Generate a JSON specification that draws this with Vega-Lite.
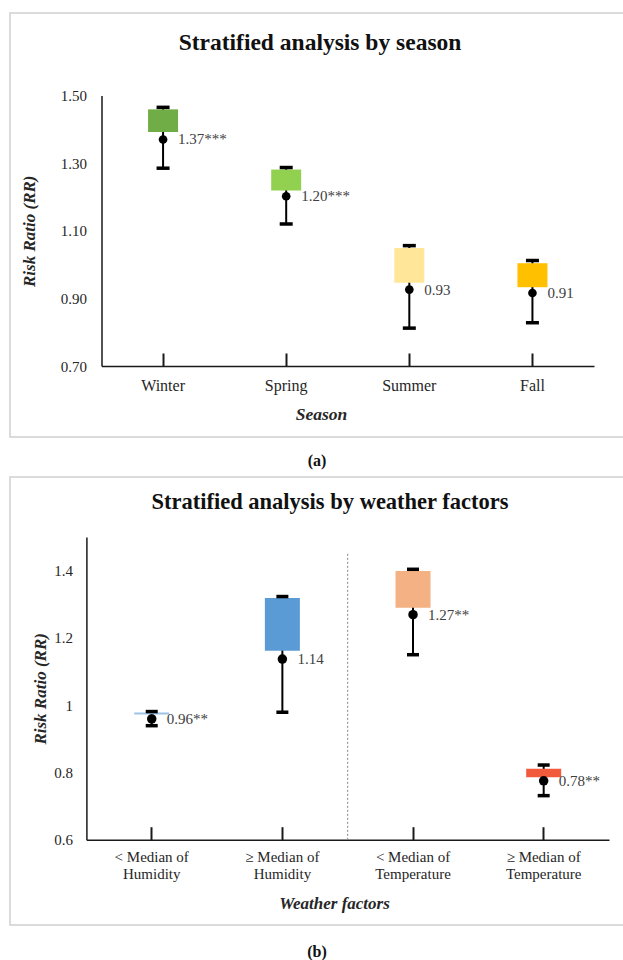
{
  "$schema": "https://vega.github.io/schema/vega-lite/v6.json",
  "background": "white",
  "padding": {"left": 9, "top": 12, "right": 0, "bottom": 0},
  "autosize": {"type": "pad"},
  "spacing": 7,
  "resolve": {"scale": {"color": "independent", "x": "independent", "y": "independent"}},
  "config": {
    "font": "Liberation Serif",
    "view": {"stroke": "#d0d0d0", "strokeWidth": 1.5},
    "axis": {"grid": false, "labelFont": "Liberation Serif", "titleFont": "Liberation Serif", "labelColor": "#262626", "titleColor": "#262626", "domainColor": "#1a1a1a", "tickColor": "#1a1a1a", "domainWidth": 1.5, "labelFontSize": 15, "titleFontSize": 17, "titleFontWeight": "bold", "titleFontStyle": "italic"},
    "title": {"font": "Liberation Serif", "color": "#111111", "fontWeight": "bold"}
  },
  "datasets": {
    "season": [
      {"season": "Winter", "low": 1.285, "box_lo": 1.392, "box_hi": 1.459, "high": 1.465, "rr": 1.37, "label": "1.37***"},
      {"season": "Spring", "low": 1.12, "box_lo": 1.219, "box_hi": 1.281, "high": 1.287, "rr": 1.202, "label": "1.20***"},
      {"season": "Summer", "low": 0.812, "box_lo": 0.946, "box_hi": 1.049, "high": 1.056, "rr": 0.926, "label": "0.93"},
      {"season": "Fall", "low": 0.828, "box_lo": 0.933, "box_hi": 1.004, "high": 1.012, "rr": 0.916, "label": "0.91"}
    ],
    "weather": [
      {"factor": "< Median of Humidity", "low": 0.939, "box_lo": 0.972, "box_hi": 0.978, "high": 0.981, "rr": 0.959, "label": "0.96**"},
      {"factor": "≥ Median of Humidity", "low": 0.979, "box_lo": 1.162, "box_hi": 1.319, "high": 1.323, "rr": 1.137, "label": "1.14"},
      {"factor": "< Median of Temperature", "low": 1.15, "box_lo": 1.29, "box_hi": 1.399, "high": 1.404, "rr": 1.269, "label": "1.27**"},
      {"factor": "≥ Median of Temperature", "low": 0.731, "box_lo": 0.786, "box_hi": 0.811, "high": 0.822, "rr": 0.775, "label": "0.78**"}
    ],
    "divider": [{"factor": "≥ Median of Humidity", "top": 1.45, "bottom": 0.6}]
  },
  "vconcat": [
    {
      "title": {"text": "(a)", "orient": "bottom", "fontSize": 16, "offset": 23, "baseline": "middle", "anchor": "middle", "frame": "bounds"},
      "vconcat": [
        {
          "width": 614,
          "height": 424,
          "title": {"text": "Stratified analysis by season", "fontSize": 23.5, "offset": -53, "baseline": "middle", "anchor": "middle", "frame": "group", "dx": 3},
          "data": {"name": "season"},
          "encoding": {
            "x": {
              "field": "season", "type": "nominal",
              "scale": {"domain": ["Winter", "Spring", "Summer", "Fall"], "range": [91.5, 584], "paddingInner": 0, "paddingOuter": 0},
              "axis": {"title": "Season", "offset": -71, "labelAngle": 0, "labelFontSize": 16, "tickSize": -13, "tickWidth": 2, "labelPadding": 24, "titlePadding": 12, "titleX": 311, "titleFontSize": 17.5}
            }
          },
          "layer": [
            {
              "mark": {"type": "rule", "color": "black", "strokeWidth": 2},
              "encoding": {
                "y": {"field": "low", "type": "quantitative",
                  "scale": {"domain": [0.7, 1.5], "range": [353, 82.5], "zero": false, "nice": false},
                  "axis": {"title": "Risk Ratio (RR)", "offset": -91.5, "values": [0.7, 0.9, 1.1, 1.3, 1.5], "format": ".2f", "ticks": false, "labelPadding": 15, "titlePadding": 22}},
                "y2": {"field": "high"}
              }
            },
            {
              "mark": {"type": "bar", "width": 30},
              "encoding": {
                "y": {"field": "box_lo", "type": "quantitative", "title": "Risk Ratio (RR)"},
                "y2": {"field": "box_hi"},
                "color": {"field": "season", "type": "nominal", "legend": null,
                  "scale": {"domain": ["Winter", "Spring", "Summer", "Fall"], "range": ["#70AD47", "#92D050", "#FFE699", "#FFC000"]}}
              }
            },
            {
              "mark": {"type": "tick", "color": "black", "size": 13, "thickness": 3.5, "opacity": 1},
              "encoding": {"y": {"field": "high", "type": "quantitative", "title": "Risk Ratio (RR)"}}
            },
            {
              "mark": {"type": "tick", "color": "black", "size": 13, "thickness": 3.5, "opacity": 1},
              "encoding": {"y": {"field": "low", "type": "quantitative", "title": "Risk Ratio (RR)"}}
            },
            {
              "mark": {"type": "circle", "color": "black", "opacity": 1, "size": 75},
              "encoding": {"y": {"field": "rr", "type": "quantitative", "title": "Risk Ratio (RR)"}}
            },
            {
              "mark": {"type": "text", "align": "left", "baseline": "middle", "dx": 15, "fontSize": 15, "color": "#404040", "font": "Liberation Serif"},
              "encoding": {"y": {"field": "rr", "type": "quantitative", "title": "Risk Ratio (RR)"}, "text": {"field": "label"}}
            }
          ]
        }
      ]
    },
    {
      "title": {"text": "(b)", "orient": "bottom", "fontSize": 16, "offset": 26, "baseline": "middle", "anchor": "middle", "frame": "bounds"},
      "vconcat": [
        {
          "width": 614,
          "height": 448,
          "title": {"text": "Stratified analysis by weather factors", "fontSize": 22.5, "offset": -47, "baseline": "middle", "anchor": "middle", "frame": "group", "dx": 13},
          "encoding": {
            "x": {
              "field": "factor", "type": "nominal",
              "scale": {"domain": ["< Median of Humidity", "≥ Median of Humidity", "< Median of Temperature", "≥ Median of Temperature"], "range": [76.4, 599], "paddingInner": 0, "paddingOuter": 0},
              "axis": {"title": "Weather factors", "offset": -85.3, "labelAngle": 0, "tickSize": -13, "tickWidth": 2, "labelPadding": 23, "titlePadding": 14, "titleX": 324, "labelLineHeight": 17,
                "labelExpr": "indexof(datum.label, 'Humidity') >= 0 ? [slice(datum.label, 0, -9), 'Humidity'] : [slice(datum.label, 0, -12), 'Temperature']"}
            }
          },
          "layer": [
            {
              "data": {"name": "divider"},
              "mark": {"type": "rule", "color": "#808080", "strokeWidth": 1, "strokeDash": [2, 2]},
              "encoding": {
                "x": {"field": "factor", "type": "nominal", "bandPosition": 1},
                "y": {"field": "top", "type": "quantitative",
                  "scale": {"domain": [0.6, 1.5], "range": [362.7, 60], "zero": false, "nice": false},
                  "axis": {"title": "Risk Ratio (RR)", "offset": -76.4, "values": [0.6, 0.8, 1, 1.2, 1.4], "format": ".1~f", "ticks": false, "labelPadding": 14, "titlePadding": 4}},
                "y2": {"field": "bottom"}
              }
            },
            {
              "data": {"name": "weather"},
              "layer": [
                {
                  "mark": {"type": "rule", "color": "black", "strokeWidth": 2},
                  "encoding": {"y": {"field": "low", "type": "quantitative", "title": "Risk Ratio (RR)"}, "y2": {"field": "high"}}
                },
                {
                  "mark": {"type": "bar", "width": 35},
                  "encoding": {
                    "y": {"field": "box_lo", "type": "quantitative", "title": "Risk Ratio (RR)"},
                    "y2": {"field": "box_hi"},
                    "color": {"field": "factor", "type": "nominal", "legend": null,
                      "scale": {"domain": ["< Median of Humidity", "≥ Median of Humidity", "< Median of Temperature", "≥ Median of Temperature"], "range": ["#9DC3E6", "#5B9BD5", "#F4B183", "#F25A3C"]}}
                  }
                },
                {
                  "mark": {"type": "tick", "color": "black", "size": 12, "thickness": 3.5, "opacity": 1},
                  "encoding": {"y": {"field": "high", "type": "quantitative", "title": "Risk Ratio (RR)"}}
                },
                {
                  "mark": {"type": "tick", "color": "black", "size": 12, "thickness": 3.5, "opacity": 1},
                  "encoding": {"y": {"field": "low", "type": "quantitative", "title": "Risk Ratio (RR)"}}
                },
                {
                  "mark": {"type": "circle", "color": "black", "opacity": 1, "size": 90},
                  "encoding": {"y": {"field": "rr", "type": "quantitative", "title": "Risk Ratio (RR)"}}
                },
                {
                  "mark": {"type": "text", "align": "left", "baseline": "middle", "dx": 15, "fontSize": 15, "color": "#404040", "font": "Liberation Serif"},
                  "encoding": {"y": {"field": "rr", "type": "quantitative", "title": "Risk Ratio (RR)"}, "text": {"field": "label"}}
                }
              ]
            }
          ]
        }
      ]
    }
  ]
}
